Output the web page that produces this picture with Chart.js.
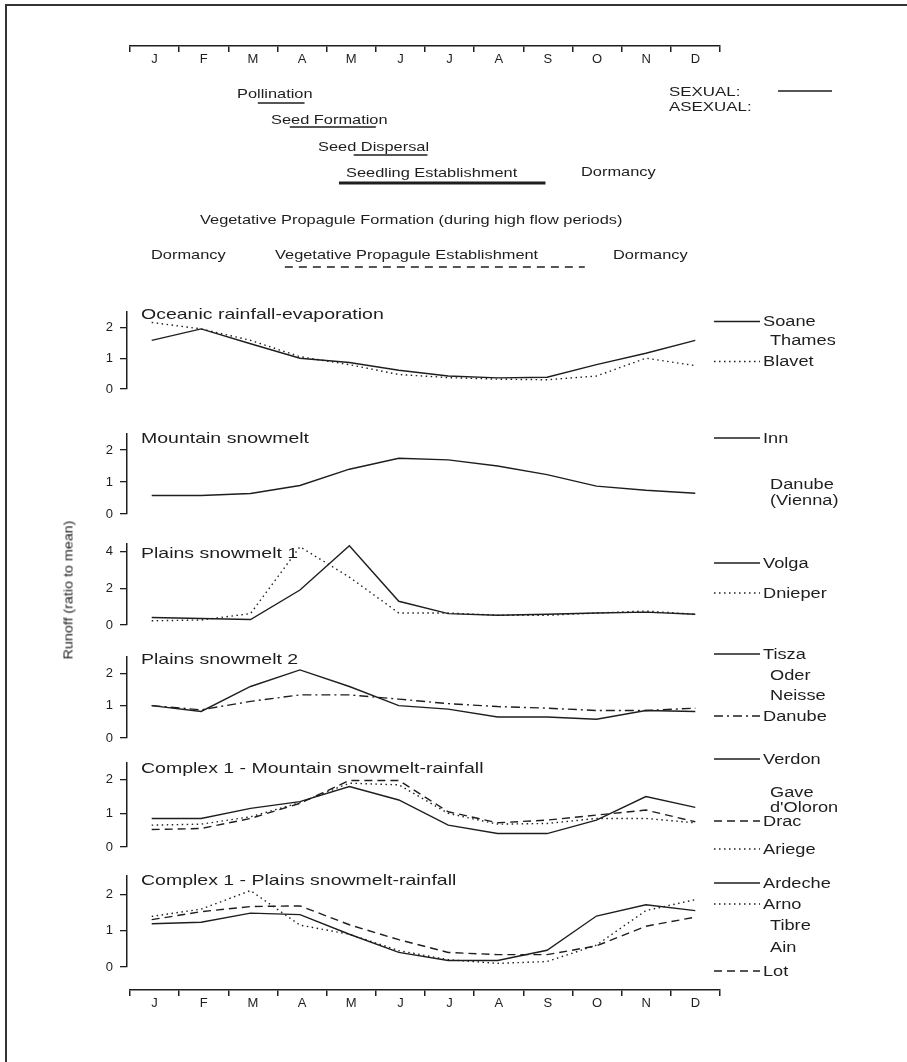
<!DOCTYPE html>
<html>
<head>
<meta charset="utf-8">
<script src="https://cdn.jsdelivr.net/npm/chart.js@4.4.0/dist/chart.umd.min.js"></script>
<style>
  body { margin: 0; background: #fff; }
  #page { position: relative; width: 907px; height: 1062px; overflow: hidden; background: #fff;
          font-family: "Liberation Sans", Arial, sans-serif; color: #1e1e1e; }
  #frame { position: absolute; left: 5px; top: 4px; right: -10px; bottom: -10px;
           border-left: 2px solid #333; border-top: 2px solid #333; }
  canvas { position: absolute; left: 0; }
  .t { position: absolute; white-space: nowrap; line-height: 1; transform-origin: 0 50%; }
</style>
</head>
<body>
<div id="page"><div id="frame"></div></div>
<script>

// DATA

const months = ['J', 'F', 'M', 'A', 'M', 'J', 'J', 'A', 'S', 'O', 'N', 'D']

// Oceanic rainfall-evaporation
const soane  = [1.58, 1.95, 1.47, 1.0, 0.86, 0.61, 0.42, 0.36, 0.38, 0.79, 1.16, 1.58]
const blavet = [2.16, 1.95, 1.58, 1.05, 0.79, 0.47, 0.37, 0.32, 0.3, 0.42, 1.0, 0.76]

// Mountain snowmelt
const inn = [0.58, 0.58, 0.64, 0.89, 1.4, 1.74, 1.69, 1.5, 1.23, 0.87, 0.74, 0.65]

// Plains snowmelt 1
const volga   = [0.41, 0.35, 0.3, 1.9, 4.3, 1.29, 0.62, 0.53, 0.58, 0.65, 0.7, 0.58]
const dnieper = [0.23, 0.27, 0.62, 4.25, 2.6, 0.65, 0.65, 0.53, 0.53, 0.65, 0.76, 0.58]

// Plains snowmelt 2
const tisza  = [1.0, 0.82, 1.59, 2.1, 1.59, 1.0, 0.89, 0.65, 0.65, 0.58, 0.85, 0.82]
const danube = [1.0, 0.87, 1.13, 1.33, 1.33, 1.2, 1.06, 0.97, 0.92, 0.85, 0.85, 0.92]

// Complex 1 - Mountain snowmelt-rainfall
const verdon = [0.85, 0.85, 1.15, 1.35, 1.8, 1.4, 0.65, 0.4, 0.4, 0.8, 1.5, 1.18]
const drac   = [0.52, 0.55, 0.85, 1.3, 1.98, 1.98, 1.05, 0.72, 0.8, 0.95, 1.1, 0.75]
const ariege = [0.65, 0.68, 0.9, 1.32, 1.9, 1.85, 1.0, 0.68, 0.7, 0.85, 0.85, 0.72]

// Complex 1 - Plains snowmelt-rainfall
const ardeche = [1.19, 1.23, 1.48, 1.44, 0.9, 0.4, 0.18, 0.18, 0.46, 1.4, 1.71, 1.55]
const arno    = [1.39, 1.59, 2.1, 1.15, 0.9, 0.45, 0.2, 0.1, 0.15, 0.6, 1.55, 1.85]
const lot     = [1.3, 1.52, 1.66, 1.68, 1.16, 0.75, 0.4, 0.34, 0.34, 0.58, 1.12, 1.37]

const panelTitles = [
  'Oceanic rainfall-evaporation',
  'Mountain snowmelt',
  'Plains snowmelt 1',
  'Plains snowmelt 2',
  'Complex 1 - Mountain snowmelt-rainfall',
  'Complex 1 - Plains snowmelt-rainfall'
]
const panelTicks = [[0, 1, 2], [0, 1, 2], [0, 2, 4], [0, 1, 2], [0, 1, 2], [0, 1, 2]]
const panelMax = [2.5, 2.5, 4.4, 2.5, 2.5, 2.5]

// life cycle phases (months from start of January)
const phaseNames = ['Pollination', 'Seed Formation', 'Seed Dispersal', 'Seedling Establishment', 'Vegetative Propagule Establishment']
const phaseStart = [2.6, 3.25, 4.55, 4.25, 3.15]
const phaseEnd   = [3.55, 5.0, 6.05, 8.45, 9.25]
const phaseKind  = ['sexual', 'sexual', 'sexual', 'sexual', 'asexual']


//VIEWS

const page = document.getElementById('page')
const FONT = '"Liberation Sans", Arial, sans-serif'
const INK = '#1e1e1e'
const W = 907

const text = (str, x, cy, size, sx = 1.3) => {
  const d = document.createElement('div')
  d.className = 't'
  d.textContent = str
  d.style.left = x + 'px'
  d.style.top = (cy - size / 2) + 'px'
  d.style.fontSize = size + 'px'
  d.style.transform = `scaleX(${sx})`
  page.appendChild(d)
}

const mkCanvas = (top, height) => {
  const c = document.createElement('canvas')
  c.width = W
  c.height = height
  c.style.top = top + 'px'
  c.style.width = W + 'px'
  c.style.height = height + 'px'
  page.appendChild(c)
  return c
}

// line samples beside the panels, drawn with each dataset's own style
const legendLines = {
  id: 'legendLines',
  afterDraw(chart, args, opts) {
    const ctx = chart.ctx
    ;(opts.items || []).forEach(it => {
      if (it.ds === undefined) return
      const ds = chart.data.datasets[it.ds]
      ctx.save()
      ctx.strokeStyle = ds.borderColor
      ctx.lineWidth = ds.borderWidth
      ctx.setLineDash(ds.borderDash || [])
      ctx.beginPath()
      ctx.moveTo(opts.x0, it.y - opts.top)
      ctx.lineTo(opts.x1, it.y - opts.top)
      ctx.stroke()
      ctx.restore()
    })
  }
}

// month axis: line with ticks down, letters underneath
const monthAxis = (axisY, left, right) => {
  const canvas = mkCanvas(axisY - 20, 45)
  new Chart(canvas, {
    type: 'line',
    data: { labels: months, datasets: [] },
    options: {
      responsive: false, animation: false, devicePixelRatio: 1,
      layout: { padding: { top: 0, bottom: 0, left: left, right: W - right } },
      plugins: { legend: { display: false }, tooltip: { enabled: false } },
      scales: {
        y: { display: false },
        x: {
          offset: true,
          grid: { drawOnChartArea: false, offset: true, tickLength: 6, color: INK, lineWidth: 1.5 },
          border: { color: INK, width: 1.6 },
          ticks: { color: INK, font: { size: 13, family: FONT }, padding: 0, maxRotation: 0, autoSkip: false },
          afterFit: s => { s.height = 25 }
        }
      }
    }
  })
}

const lineStyle = {
  solid:   [],
  dotted:  [1.5, 3.5],
  dashed:  [8, 5],
  dashdot: [9, 4, 2, 4]
}

const mkSeries = (data, style) => ({
  data: data,
  borderColor: INK,
  borderWidth: 1.4,
  borderDash: lineStyle[style],
  pointRadius: 0,
  fill: false,
  tension: 0
})

// one runoff panel
const renderPanel = (i, box, series, legend) => {
  const pad = 18
  const canvas = mkCanvas(box.top - pad, box.bottom - box.top + 2 * pad)
  const ticks = panelTicks[i]

  new Chart(canvas, {
    type: 'line',
    data: { labels: months, datasets: series },
    options: {
      responsive: false, animation: false, devicePixelRatio: 1,
      layout: { padding: { top: pad, bottom: pad, left: 0, right: W - 720 } },
      plugins: {
        legend: { display: false }, tooltip: { enabled: false },
        legendLines: { items: legend, x0: 714, x1: 760, top: box.top - pad }
      },
      scales: {
        x: { display: false, offset: true },
        y: {
          min: 0, max: panelMax[i],
          afterBuildTicks: s => { s.ticks = ticks.map(v => ({ value: v })) },
          afterFit: s => { s.width = 127 },
          grid: { drawOnChartArea: false, tickLength: 7, color: INK, lineWidth: 1.3 },
          border: { color: INK, width: 1.5 },
          ticks: { color: INK, font: { size: 13, family: FONT }, padding: 7 }
        }
      }
    },
    plugins: [legendLines]
  })

  text(panelTitles[i], 141, box.titleY, 15, 1.3)
  legend.forEach(it => text(it.t, it.ds === undefined ? 770 : 763, it.y, 14, 1.3))
}

// phases of the life cycle
const renderPhases = () => {
  const top = 60
  const canvas = mkCanvas(top, 240)
  const level = [2.15, 3.35, 4.75, 6.15, 10.35]

  const datasets = phaseNames.map((name, i) => ({
    label: name,
    data: [{ x: phaseStart[i], y: level[i] }, { x: phaseEnd[i], y: level[i] }],
    borderColor: INK,
    borderWidth: i === 3 ? 3 : 1.5,
    borderDash: phaseKind[i] === 'asexual' ? [8, 6] : [],
    pointRadius: 0
  }))

  const sexualKey = {
    id: 'sexualKey',
    afterDraw(chart) {
      const ctx = chart.ctx
      ctx.save()
      ctx.strokeStyle = INK
      ctx.lineWidth = 1.5
      ctx.beginPath()
      ctx.moveTo(778, 91 - top)
      ctx.lineTo(832, 91 - top)
      ctx.stroke()
      ctx.restore()
    }
  }

  new Chart(canvas, {
    type: 'line',
    data: { datasets: datasets },
    options: {
      responsive: false, animation: false, devicePixelRatio: 1,
      layout: { padding: { top: 0, bottom: 0, left: 130, right: W - 720 } },
      plugins: { legend: { display: false }, tooltip: { enabled: false } },
      scales: {
        x: { type: 'linear', min: 0, max: 12, display: false },
        y: { type: 'linear', min: 0, max: 12, reverse: true, display: false }
      }
    },
    plugins: [sexualKey]
  })

  const s = 1.26
  text('Pollination', 237, 93, 13, s)
  text('Seed Formation', 271, 119, 13, s)
  text('Seed Dispersal', 318, 146, 13, s)
  text('Seedling Establishment', 346, 172, 13, s)
  text('Dormancy', 581, 171, 13, s)
  text('Vegetative Propagule Formation (during high flow periods)', 200, 219, 13, s)
  text('Dormancy', 151, 254, 13, s)
  text('Vegetative Propagule Establishment', 275, 254, 13, s)
  text('Dormancy', 613, 254, 13, s)
  text('SEXUAL:', 669, 91, 13, 1.3)
  text('ASEXUAL:', 669, 106, 13, 1.3)
}

const init = () => {
  monthAxis(46, 130, 720)
  renderPhases()

  renderPanel(0, { top: 311.5, bottom: 389, titleY: 313 },
    [mkSeries(soane, 'solid'), mkSeries(blavet, 'dotted')],
    [{ t: 'Soane', y: 321, ds: 0 }, { t: 'Thames', y: 340 }, { t: 'Blavet', y: 361, ds: 1 }])

  renderPanel(1, { top: 434, bottom: 514, titleY: 437 },
    [mkSeries(inn, 'solid')],
    [{ t: 'Inn', y: 438, ds: 0 }, { t: 'Danube', y: 484 }, { t: '(Vienna)', y: 500 }])

  renderPanel(2, { top: 544, bottom: 625, titleY: 552 },
    [mkSeries(volga, 'solid'), mkSeries(dnieper, 'dotted')],
    [{ t: 'Volga', y: 563, ds: 0 }, { t: 'Dnieper', y: 593, ds: 1 }])

  renderPanel(3, { top: 657, bottom: 738, titleY: 658 },
    [mkSeries(tisza, 'solid'), mkSeries(danube, 'dashdot')],
    [{ t: 'Tisza', y: 654, ds: 0 }, { t: 'Oder', y: 675 }, { t: 'Neisse', y: 695 }, { t: 'Danube', y: 716, ds: 1 }])

  renderPanel(4, { top: 763, bottom: 847, titleY: 767 },
    [mkSeries(verdon, 'solid'), mkSeries(drac, 'dashed'), mkSeries(ariege, 'dotted')],
    [{ t: 'Verdon', y: 759, ds: 0 }, { t: 'Gave', y: 792 }, { t: "d'Oloron", y: 807 }, { t: 'Drac', y: 821, ds: 1 }, { t: 'Ariege', y: 849, ds: 2 }])

  renderPanel(5, { top: 876, bottom: 967, titleY: 879 },
    [mkSeries(ardeche, 'solid'), mkSeries(arno, 'dotted'), mkSeries(lot, 'dashed')],
    [{ t: 'Ardeche', y: 883, ds: 0 }, { t: 'Arno', y: 904, ds: 1 }, { t: 'Tibre', y: 925 }, { t: 'Ain', y: 947 }, { t: 'Lot', y: 971, ds: 2 }])

  monthAxis(990, 130, 720)

  // y axis title
  const yt = document.createElement('div')
  yt.className = 't'
  yt.textContent = 'Runoff (ratio to mean)'
  yt.style.fontSize = '13px'
  yt.style.color = INK
  yt.style.left = '68px'
  yt.style.top = '590px'
  yt.style.transformOrigin = '0 0'
  yt.style.transform = 'rotate(-90deg) scaleX(1.1) translate(-50%, -50%)'
  page.appendChild(yt)
}

init()
</script>
</body>
</html>
